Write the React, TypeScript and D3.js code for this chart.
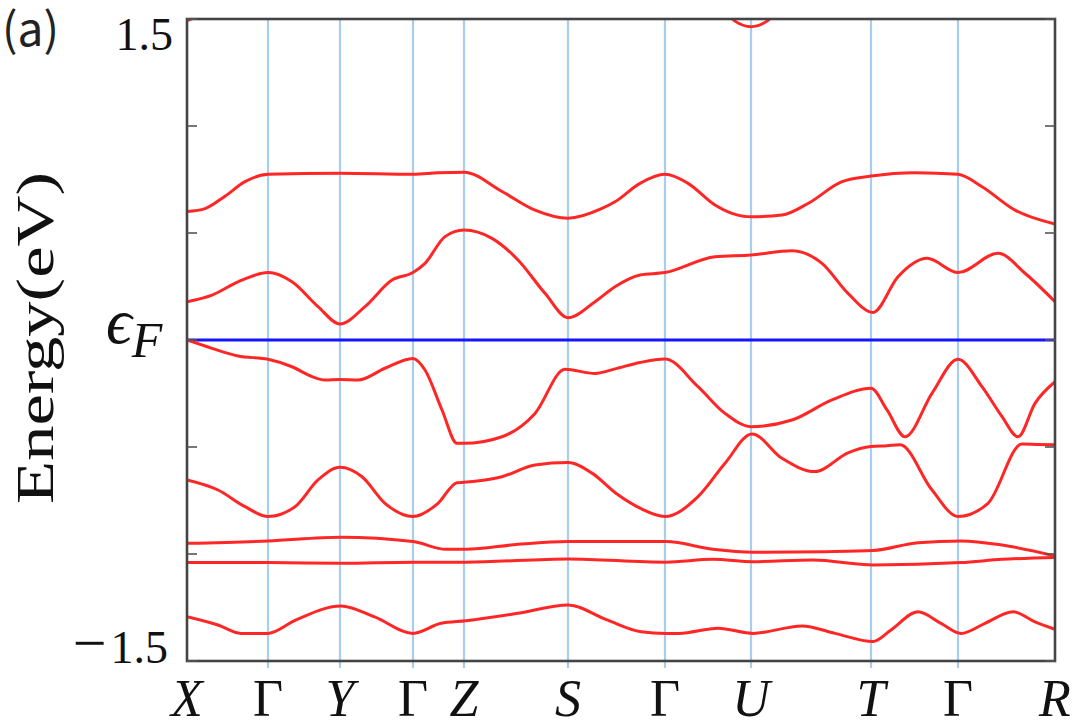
import React from "react";
import * as d3 from "d3";

// k-path positions (arbitrary path-length units) and labels
const kPositions = [0, 81, 153, 226, 277, 381, 478, 564, 684, 771, 868];
const kLabels = ["X", "Γ", "Y", "Γ", "Z", "S", "Γ", "U", "T", "Γ", "R"];
const yTickValues = [-1.5, -1, -0.5, 0, 0.5, 1, 1.5];

// bands: [k, energy (eV)]
const band1: [number, number][] = [
  [0, 0.6], [18, 0.614], [38, 0.672], [58, 0.74], [81, 0.774], [153, 0.779], [226, 0.774],
  [251, 0.781], [277, 0.784], [315, 0.694], [348, 0.607], [381, 0.569], [415, 0.615],
  [428, 0.646], [453, 0.732], [478, 0.774], [501, 0.732], [528, 0.631], [545, 0.592],
  [564, 0.576], [595, 0.584], [621, 0.638], [655, 0.74], [684, 0.766], [728, 0.782],
  [771, 0.774], [795, 0.716], [828, 0.607], [868, 0.542],
];
const band2: [number, number][] = [
  [0, 0.179], [25, 0.21], [51, 0.272], [81, 0.315], [105, 0.272], [131, 0.156], [153, 0.075],
  [178, 0.156], [205, 0.28], [226, 0.315], [238, 0.358], [258, 0.483], [277, 0.514],
  [305, 0.475], [331, 0.374], [358, 0.218], [381, 0.104], [408, 0.179], [428, 0.249],
  [453, 0.304], [478, 0.315], [528, 0.389], [564, 0.397], [605, 0.417], [635, 0.358],
  [661, 0.218], [686, 0.129], [711, 0.296], [740, 0.382], [771, 0.315], [811, 0.405],
  [838, 0.312], [868, 0.179],
];
const band3: [number, number][] = [
  [0, 0.0], [25, -0.039], [51, -0.075], [81, -0.09], [105, -0.125], [125, -0.171],
  [138, -0.187], [153, -0.184], [171, -0.187], [198, -0.132], [226, -0.086], [238, -0.14],
  [255, -0.327], [270, -0.483], [277, -0.483], [315, -0.452], [348, -0.343], [378, -0.137],
  [408, -0.156], [428, -0.135], [453, -0.105], [478, -0.089], [511, -0.218], [538, -0.343],
  [564, -0.405], [605, -0.374], [645, -0.28], [684, -0.226], [700, -0.327], [718, -0.452],
  [745, -0.249], [771, -0.09], [795, -0.218], [815, -0.358], [831, -0.452], [848, -0.296],
  [868, -0.195],
];
const band4: [number, number][] = [
  [0, -0.654], [31, -0.701], [58, -0.779], [81, -0.825], [108, -0.779], [131, -0.654],
  [153, -0.595], [175, -0.639], [198, -0.763], [226, -0.825], [251, -0.763], [270, -0.667],
  [277, -0.665], [315, -0.639], [348, -0.584], [381, -0.573], [405, -0.622], [430, -0.72],
  [453, -0.786], [478, -0.825], [511, -0.732], [538, -0.576], [565, -0.439], [595, -0.553],
  [628, -0.615], [661, -0.527], [684, -0.498], [700, -0.494], [713, -0.49], [745, -0.701],
  [771, -0.825], [801, -0.763], [835, -0.486], [850, -0.488], [868, -0.49],
];
const band5: [number, number][] = [
  [0, -0.95], [81, -0.939], [154, -0.922], [226, -0.942], [259, -0.978], [279, -0.978],
  [331, -0.955], [381, -0.942], [479, -0.942], [526, -0.978], [566, -0.992], [637, -0.989],
  [686, -0.984], [731, -0.947], [774, -0.939], [815, -0.958], [868, -1.009],
];
const band6: [number, number][] = [
  [0, -1.04], [81, -1.04], [154, -1.043], [226, -1.038], [279, -1.038], [381, -1.023],
  [479, -1.038], [526, -1.025], [566, -1.036], [626, -1.028], [686, -1.051], [774, -1.04],
  [815, -1.025], [868, -1.016],
];
const band7: [number, number][] = [
  [0, -1.293], [31, -1.332], [54, -1.371], [81, -1.371], [109, -1.308], [154, -1.243],
  [187, -1.293], [226, -1.371], [254, -1.324], [279, -1.312], [331, -1.277], [381, -1.238],
  [420, -1.308], [454, -1.363], [479, -1.371], [492, -1.371], [531, -1.347], [566, -1.371],
  [615, -1.336], [648, -1.371], [686, -1.409], [704, -1.355], [731, -1.27], [754, -1.324],
  [774, -1.371], [798, -1.324], [826, -1.27], [848, -1.317], [868, -1.352],
];
const band8: [number, number][] = [
  [538, 1.54], [548, 1.49], [564, 1.464], [580, 1.49], [590, 1.54],
];
const band9: [number, number][] = [
  [0, 1.492], [12, 1.515],
];
const bands = [band1, band2, band3, band4, band5, band6, band7, band8, band9];

const W = 1075;
const H = 725;
const left = 187;
const right = 1055;
const top = 19;
const bottom = 661;

export default function App() {
  const x = d3.scaleLinear().domain([0, 868]).range([left, right]);
  const y = d3.scaleLinear().domain([-1.5, 1.5]).range([bottom, top]);
  const line = d3
    .line<[number, number]>()
    .x((d) => x(d[0]))
    .y((d) => y(d[1]))
    .curve(d3.curveMonotoneX);

  const serif = "'Liberation Serif', 'DejaVu Serif', serif";

  return (
    <svg
      width={W}
      height={H}
      style={{ position: "absolute", left: 0, top: 0, background: "#fff" }}
    >
      <defs>
        <clipPath id="plotclip">
          <rect x={left} y={top} width={right - left} height={bottom - top} />
        </clipPath>
      </defs>
      <rect x={0} y={0} width={W} height={H} fill="#fff" />

      {/* high-symmetry vertical lines */}
      {kPositions.slice(1, -1).map((k, i) => (
        <line
          key={"v" + i}
          x1={x(k)}
          x2={x(k)}
          y1={top}
          y2={bottom + 7}
          stroke="#a9cdee"
          strokeWidth={2.2}
        />
      ))}

      {/* Fermi level */}
      <line
        x1={left}
        x2={right}
        y1={y(0)}
        y2={y(0)}
        stroke="#1515ff"
        strokeWidth={3.2}
      />

      {/* bands */}
      <g clipPath="url(#plotclip)">
        {bands.map((b, i) => (
          <path
            key={"b" + i}
            d={line(b) || ""}
            fill="none"
            stroke="#ff2626"
            strokeWidth={3}
            strokeLinejoin="round"
          />
        ))}
      </g>

      {/* frame */}
      <rect
        x={left}
        y={top}
        width={right - left}
        height={bottom - top}
        fill="none"
        stroke="#444"
        strokeWidth={2.6}
      />

      {/* y ticks, inside on both sides */}
      {yTickValues.map((v, i) => (
        <g key={"t" + i}>
          <line x1={left} x2={left + 10} y1={y(v)} y2={y(v)} stroke="#555" strokeWidth={1.6} />
          <line x1={right - 10} x2={right} y1={y(v)} y2={y(v)} stroke="#555" strokeWidth={1.6} />
        </g>
      ))}

      {/* y labels */}
      <text
        x={173}
        y={y(1.5) + 31}
        textAnchor="end"
        fontFamily={serif}
        fontSize={46}
        fill="#111"
      >
        1.5
      </text>
      <text
        x={168}
        y={y(-1.5) + 2}
        textAnchor="end"
        fontFamily={serif}
        fontSize={46}
        fill="#111"
      >
        <tspan fontSize={60}>−</tspan>
        <tspan dx={4}>1.5</tspan>
      </text>
      <text x={106} y={y(0) + 3} fontFamily={serif} fontSize={64} fill="#111">
        <tspan fontStyle="italic">ϵ</tspan>
        <tspan fontStyle="italic" fontSize={50} dx={0} dy={14}>
          F
        </tspan>
      </text>

      {/* y axis title */}
      <text
        transform={`translate(53, ${y(0) - 2}) rotate(-90)`}
        textAnchor="middle"
        fontFamily={serif}
        fontSize={52}
        fill="#111"
        textLength={332}
        lengthAdjust="spacingAndGlyphs"
      >
        Energy(eV)
      </text>

      {/* panel label */}
      <text
        x={2}
        y={46}
        fontFamily="'Noto Sans CJK JP', 'Noto Sans', sans-serif"
        fontSize={46}
        fill="#222"
      >
        (a)
      </text>

      {/* x labels */}
      {kPositions.map((k, i) => (
        <text
          key={"x" + i}
          x={x(k)}
          y={716}
          textAnchor="middle"
          fontFamily={serif}
          fontSize={52}
          fontStyle={kLabels[i] === "Γ" ? "normal" : "italic"}
          fill="#111"
        >
          {kLabels[i]}
        </text>
      ))}
    </svg>
  );
}
